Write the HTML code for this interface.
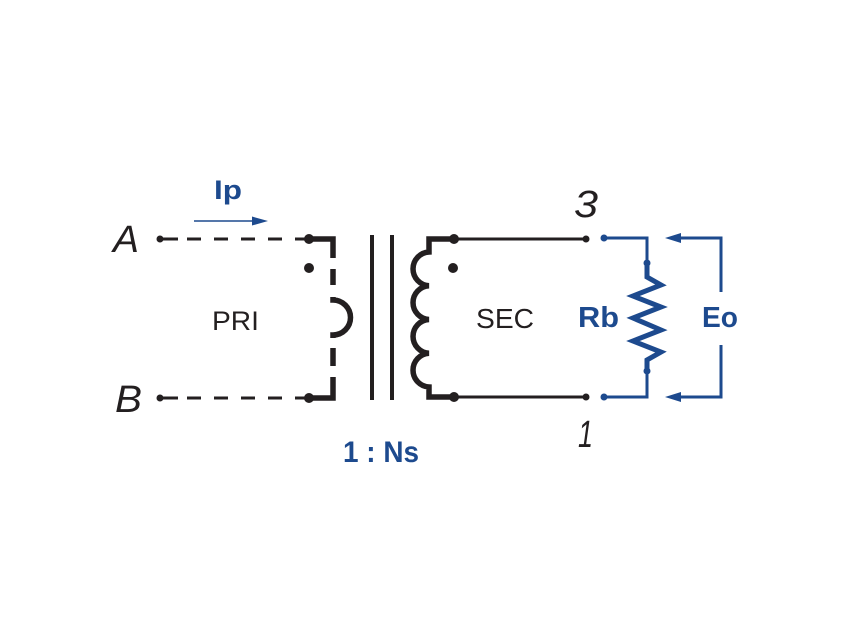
<!DOCTYPE html>
<html>
<head>
<meta charset="utf-8">
<style>
  html, body { margin: 0; padding: 0; background: #ffffff; }
  body { width: 850px; height: 638px; overflow: hidden; }
  svg { display: block; }
  text { font-family: "Liberation Sans", "DejaVu Sans", sans-serif; }
</style>
</head>
<body>
<svg width="850" height="638" viewBox="0 0 850 638" xmlns="http://www.w3.org/2000/svg">
  <rect width="850" height="638" fill="#ffffff"/>

  <!-- ===== PRIMARY ===== -->
  <g stroke="#231f20" stroke-width="3" fill="none">
    <line x1="160" y1="239" x2="178" y2="239"/>
    <line x1="187" y1="239" x2="201" y2="239"/>
    <line x1="214" y1="239" x2="228" y2="239"/>
    <line x1="241" y1="239" x2="255" y2="239"/>
    <line x1="268" y1="239" x2="282" y2="239"/>
    <line x1="295" y1="239" x2="309" y2="239"/>
    <line x1="160" y1="398" x2="178" y2="398"/>
    <line x1="187" y1="398" x2="201" y2="398"/>
    <line x1="214" y1="398" x2="228" y2="398"/>
    <line x1="241" y1="398" x2="255" y2="398"/>
    <line x1="268" y1="398" x2="282" y2="398"/>
    <line x1="295" y1="398" x2="309" y2="398"/>
  </g>
  <g stroke="#231f20" stroke-width="5.5" fill="none" stroke-linejoin="miter">
    <path d="M309 239 H333 V258"/>
    <line x1="333" y1="269" x2="333" y2="285"/>
    <path d="M333 297 V300 A17.5 17.5 0 0 1 333 335 V338"/>
    <line x1="333" y1="348" x2="333" y2="366"/>
    <path d="M333 377 V398 H309"/>
  </g>
  <g fill="#231f20">
    <circle cx="160" cy="239" r="3.5"/>
    <circle cx="160" cy="398" r="3.5"/>
    <circle cx="309" cy="239" r="5"/>
    <circle cx="309" cy="398" r="5"/>
    <circle cx="309" cy="268" r="5"/>
  </g>

  <!-- ===== CORE ===== -->
  <g stroke="#231f20" stroke-width="4">
    <line x1="372" y1="235" x2="372" y2="400"/>
    <line x1="392" y1="235" x2="392" y2="400"/>
  </g>

  <!-- ===== SECONDARY ===== -->
  <path d="M454 239 H429 V252 A16.9 16.9 0 0 0 429 285.75 A16.9 16.9 0 0 0 429 319.5 A16.9 16.9 0 0 0 429 353.25 A16.9 16.9 0 0 0 429 387 V397 H454"
        stroke="#231f20" stroke-width="5.5" fill="none" stroke-linejoin="miter"/>
  <g stroke="#231f20" stroke-width="3">
    <line x1="454" y1="239" x2="586" y2="239"/>
    <line x1="454" y1="397" x2="586" y2="397"/>
  </g>
  <g fill="#231f20">
    <circle cx="454" cy="239" r="5"/>
    <circle cx="454" cy="397" r="5"/>
    <circle cx="453" cy="268" r="5"/>
    <circle cx="586" cy="239" r="3.5"/>
    <circle cx="586" cy="397" r="3.5"/>
  </g>

  <!-- ===== BURDEN RESISTOR (blue) ===== -->
  <g stroke="#1d4a8e" fill="none">
    <path d="M604 238 H647 V263" stroke-width="3"/>
    <path d="M647 371 V397 H604" stroke-width="3"/>
    <path d="M647 263 V277 L661 285 L633 296 L661 307 L633 318 L661 330 L633 341 L661 352 L647 360 V371"
          stroke-width="5" stroke-linejoin="miter"/>
    <path d="M721 292 V238 H672" stroke-width="3"/>
    <path d="M721 345 V397 H672" stroke-width="3"/>
    <line x1="194" y1="221" x2="256" y2="221" stroke-width="1.6"/>
  </g>
  <g fill="#1d4a8e">
    <circle cx="604" cy="238" r="3.5"/>
    <circle cx="604" cy="397" r="3.5"/>
    <circle cx="647" cy="263" r="3.5"/>
    <circle cx="647" cy="371" r="3.5"/>
    <polygon points="665,238 681,233 681,243"/>
    <polygon points="665,397 681,392 681,402"/>
    <polygon points="268,221 252,216.5 252,225.5"/>
  </g>

  <!-- ===== TEXT ===== -->
  <g fill="#231f20">
    <text x="113" y="252" font-size="38" font-style="italic" textLength="26" lengthAdjust="spacingAndGlyphs">A</text>
    <text x="115" y="412" font-size="38" font-style="italic" textLength="27" lengthAdjust="spacingAndGlyphs">B</text>
    <text x="212" y="330" font-size="27" textLength="47" lengthAdjust="spacingAndGlyphs">PRI</text>
    <text x="476" y="328" font-size="28" textLength="58" lengthAdjust="spacingAndGlyphs">SEC</text>
    <text x="574" y="217" font-size="38" font-style="italic" textLength="24" lengthAdjust="spacingAndGlyphs">3</text>
    <text x="578" y="447" font-size="38" font-style="italic" textLength="15" lengthAdjust="spacingAndGlyphs">1</text>
  </g>
  <g fill="#1d4a8e" font-weight="bold">
    <text x="214" y="199" font-size="27" textLength="28" lengthAdjust="spacingAndGlyphs">Ip</text>
    <text x="578" y="327" font-size="29" textLength="41" lengthAdjust="spacingAndGlyphs">Rb</text>
    <text x="702" y="327" font-size="29" textLength="36" lengthAdjust="spacingAndGlyphs">Eo</text>
    <text x="343" y="462" font-size="30" textLength="76" lengthAdjust="spacingAndGlyphs">1 : Ns</text>
  </g>
</svg>
</body>
</html>
